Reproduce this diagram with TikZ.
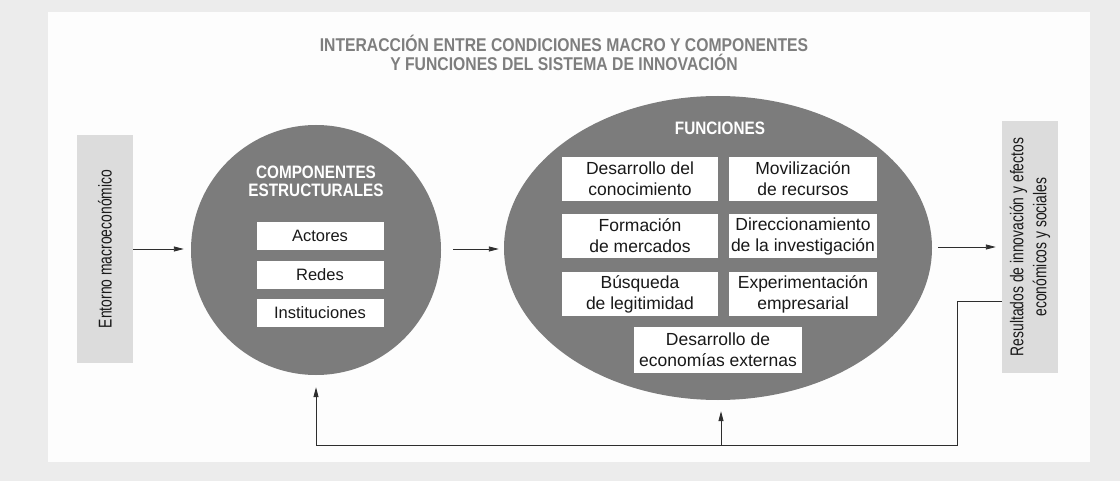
\documentclass[tikz,border=0pt]{standalone}
\usepackage{fontspec}
\setmainfont{Liberation Sans}
\newfontfamily\titlefont[FakeStretch=0.85]{Liberation Sans}
\newfontfamily\condfont[FakeStretch=0.75]{Liberation Sans}
\usetikzlibrary{shapes.geometric,arrows.meta,calc}
\definecolor{bgout}{HTML}{ECECEC}
\definecolor{panel}{HTML}{FDFDFD}
\definecolor{midgray}{HTML}{7C7C7C}
\definecolor{lightbox}{HTML}{DCDCDC}
\definecolor{titlegray}{HTML}{7E7E7E}
\definecolor{linecol}{HTML}{2E2E2E}
\tikzset{
  sidebox/.style={draw=none, fill=lightbox, rotate=90, minimum height=56pt, inner sep=0pt,
    font=\condfont\fontsize{18.5}{23}\selectfont, align=center, text=black!90},
  bigshape/.style={draw=none, fill=midgray},
  headtxt/.style={text=white, font=\titlefont\bfseries\fontsize{18}{18}\selectfont, align=center},
  compbox/.style={fill=white, draw=none, minimum width=127pt, minimum height=28pt, inner sep=0pt,
    font=\fontsize{16.5}{20}\selectfont, text=black!90},
  funcbox/.style={fill=white, draw=none, minimum height=44pt, inner sep=0pt, align=center,
    font=\fontsize{17.5}{21}\selectfont, text=black!90},
  conn/.style={draw=linecol, line width=0.9pt},
  arr/.style={conn, -{Triangle[length=10pt,width=5pt]}},
}
\begin{document}
\begin{tikzpicture}[x=1pt,y=-1pt]
\path[use as bounding box] (0,0) rectangle (1120,481);
\fill[bgout] (0,0) rectangle (1120,481);
\fill[panel] (48,12) rectangle (1090,462);

\node[font=\titlefont\bfseries\fontsize{18.5}{19.5}\selectfont, text=titlegray, align=center] (title) at (564,53)
  {INTERACCIÓN ENTRE CONDICIONES MACRO Y COMPONENTES\\Y FUNCIONES DEL SISTEMA DE INNOVACIÓN};

\node[sidebox, minimum width=228pt] (env) at (105,249) {Entorno macroeconómico};
\node[sidebox, minimum width=251pt] (res) at (1030,247) {Resultados de innovación y efectos\\económicos y sociales};

\node[bigshape, circle, minimum size=250pt, inner sep=0pt] (comp) at (316,250) {};
\node[headtxt] (comph) at (316,181) {COMPONENTES\\ESTRUCTURALES};
\node[compbox] (act) at (320,236) {Actores};
\node[compbox] (red) at (320,275) {Redes};
\node[compbox] (ins) at (320,313) {Instituciones};

\node[bigshape, ellipse, minimum width=428pt, minimum height=304pt, inner sep=0pt] (func) at (718,248) {};
\node[headtxt] (funch) at (720,128) {FUNCIONES};
\node[funcbox, minimum width=156pt] (f1) at (640,179) {Desarrollo del\\conocimiento};
\node[funcbox, minimum width=148pt] (f2) at (803,179) {Movilización\\de recursos};
\node[funcbox, minimum width=156pt] (f3) at (640,236) {Formación\\de mercados};
\node[funcbox, minimum width=148pt] (f4) at (803,236) {Direccionamiento\\de la investigación};
\node[funcbox, minimum width=156pt] (f5) at (640,294) {Búsqueda\\de legitimidad};
\node[funcbox, minimum width=148pt] (f6) at (803,294) {Experimentación\\empresarial};
\node[funcbox, minimum width=168pt, minimum height=45pt] (f7) at (718,350) {Desarrollo de\\economías externas};

\draw[arr, shorten >=7pt] (env.south) -- (env.south -| comp.west);
\draw[arr, shorten <=12pt, shorten >=5pt] (comp.east |- env.south) -- (comp.east |- env.south -| func.west);
\draw[arr, shorten <=6pt, shorten >=6pt] (func.east |- res.north) -- (res.north);

\coordinate (fbA) at (957,301);
\coordinate (fbB) at (957,445);
\coordinate (fbC) at (721,445);
\draw[conn] (res.north |- fbA) -- (fbA) -- (fbB) -- (fbB -| comp.south);
\draw[arr, shorten >=12pt] (fbB -| comp.south) -- (comp.south);
\draw[arr, shorten >=11pt] (fbC) -- (fbC |- func.south);
\end{tikzpicture}
\end{document}
